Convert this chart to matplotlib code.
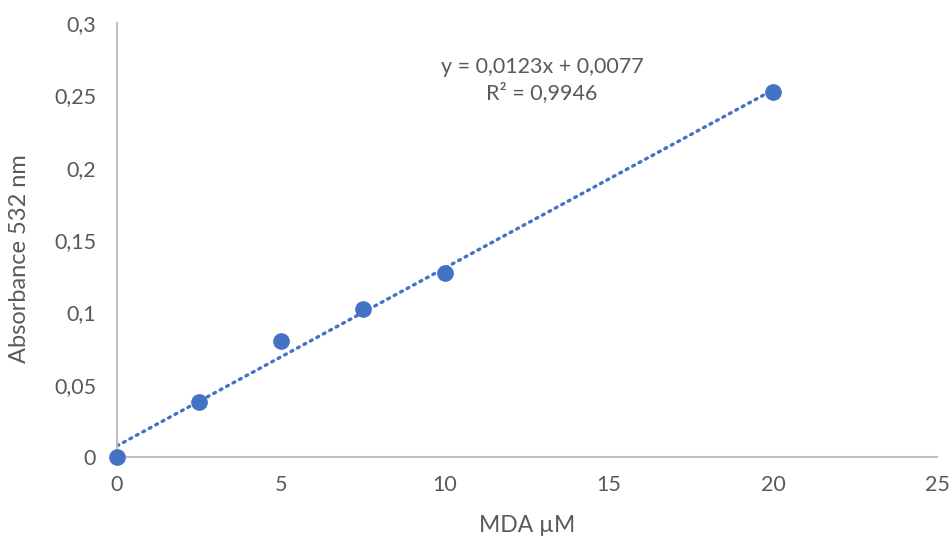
import matplotlib
matplotlib.use("Agg")
import matplotlib.pyplot as plt
import numpy as np
from matplotlib.ticker import FuncFormatter

plt.rcParams['font.family'] = ['Lato', 'DejaVu Sans']

x_vals = [0, 2.5, 5, 7.5, 10, 20]
y_vals = [0.0, 0.038, 0.080, 0.102, 0.127, 0.252]
x_ticks = [0, 5, 10, 15, 20, 25]
y_ticks = [0, 0.05, 0.1, 0.15, 0.2, 0.25, 0.3]
eq_text = "y = 0,0123x + 0,0077\nR² = 0,9946"

color = "#4472c4"
txt = "#595959"

fig = plt.figure(figsize=(9.5, 5.4), dpi=100)
ax = fig.add_axes([117/950, 1-457/540, (937-117)/950, (457-23)/540])

slope, intercept = 0.0123, 0.0077
xf = np.array([min(x_vals), max(x_vals)])
ax.plot(xf, slope*xf + intercept, linestyle=(0, (0.6, 1.6)), color=color,
        lw=2.4, dash_capstyle='round', zorder=2)
ax.plot(x_vals, y_vals, 'o', color=color, ms=11, zorder=3, clip_on=False)

ax.set_xlim(0, 25)
ax.set_ylim(0, 0.3)
ax.set_xticks(x_ticks)
ax.set_yticks(y_ticks)
fmt = FuncFormatter(lambda v, p: ('%g' % v).replace('.', ','))
ax.xaxis.set_major_formatter(fmt)
ax.yaxis.set_major_formatter(fmt)
ax.tick_params(length=0, labelsize=15.5, colors=txt)
ax.tick_params(axis='x', pad=13)
ax.tick_params(axis='y', pad=15)
for s in ['top', 'right']:
    ax.spines[s].set_visible(False)
for s in ['left', 'bottom']:
    ax.spines[s].set_color('#bfbfbf')
    ax.spines[s].set_linewidth(1.5)

ax.set_xlabel("MDA µM", fontsize=16.5, color=txt, va='center')
ax.set_ylabel("Absorbance 532 nm", fontsize=17, color=txt, va='center')
ax.xaxis.set_label_coords(0.5, -0.158)
ax.yaxis.set_label_coords(-0.1195, 0.458)

ax.text(12.96, 0.2606, eq_text, ha='center', va='center', fontsize=15.5,
        color=txt, linespacing=1.3)

fig.savefig("out.png", dpi=100)
